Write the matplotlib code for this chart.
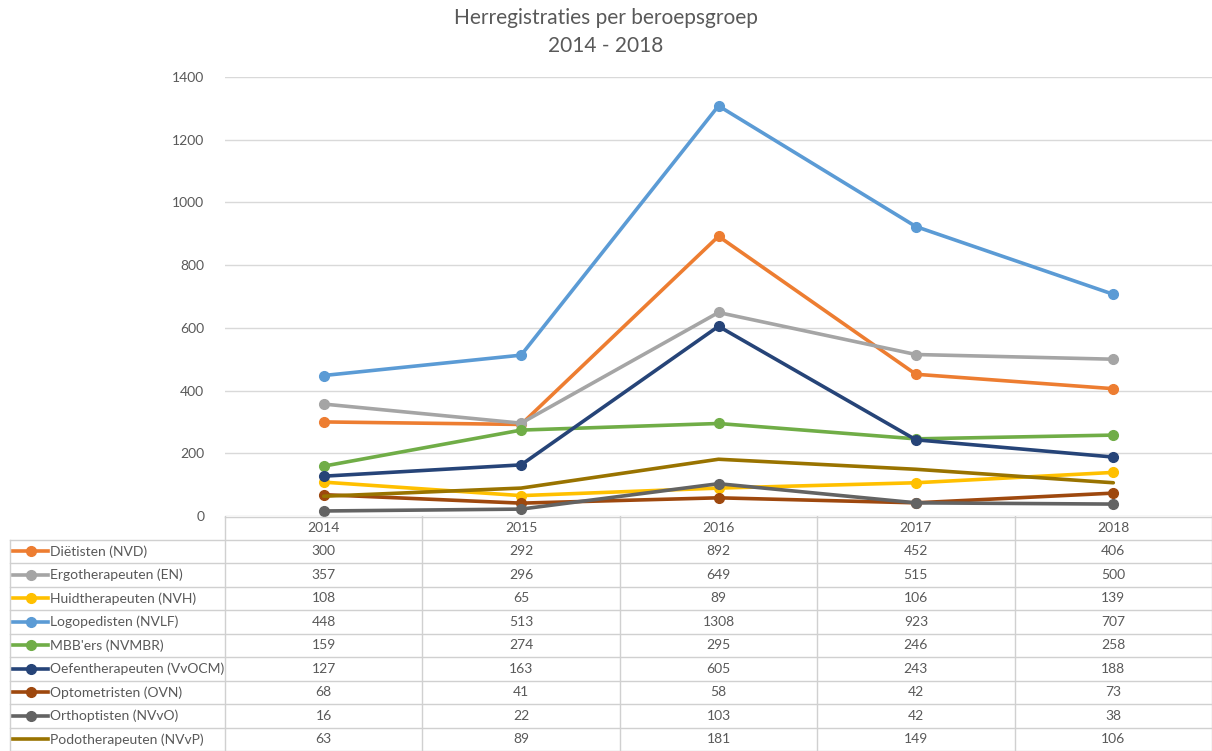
import numpy as np
import matplotlib.pyplot as plt

plt.rcParams['font.family'] = ['Lato', 'DejaVu Sans']

years = ['2014', '2015', '2016', '2017', '2018']
names = ['Diëtisten (NVD)', 'Ergotherapeuten (EN)', 'Huidtherapeuten (NVH)',
         'Logopedisten (NVLF)', "MBB'ers (NVMBR)", 'Oefentherapeuten (VvOCM)',
         'Optometristen (OVN)', 'Orthoptisten (NVvO)', 'Podotherapeuten (NVvP)']

dietisten = [300, 292, 892, 452, 406]
ergo = [357, 296, 649, 515, 500]
huid = [108, 65, 89, 106, 139]
logo = [448, 513, 1308, 923, 707]
mbb = [159, 274, 295, 246, 258]
oefen = [127, 163, 605, 243, 188]
opto = [68, 41, 58, 42, 73]
ortho = [16, 22, 103, 42, 38]
podo = [63, 89, 181, 149, 106]

series = [dietisten, ergo, huid, logo, mbb, oefen, opto, ortho, podo]
colors = ['#ED7D31', '#A5A5A5', '#FFC000', '#5B9BD5', '#70AD47',
          '#264478', '#9E480E', '#636363', '#997300']
markers = ['o'] * 8 + [None]

txt = '#595959'
grid = '#D9D9D9'
W, H = 1212, 751

fig = plt.figure(figsize=(W / 100, H / 100), dpi=100)
ax = fig.add_axes([225 / W, 235 / H, 987 / W, 439 / H])

x = np.arange(len(years))
for vals, c, m in zip(series, colors, markers):
    ax.plot(x, vals, color=c, lw=2.6, marker=m, ms=7, solid_capstyle='round', zorder=3)

ax.set_xlim(-0.5, 4.5)
ax.set_ylim(0, 1400)
ax.set_yticks(range(0, 1401, 200))
ax.set_xticks([])
ax.grid(axis='y', color=grid, lw=1)
for s in ax.spines.values():
    s.set_visible(False)
ax.tick_params(axis='y', length=0, pad=15, labelsize=10, labelcolor=txt)

fig.text(0.5, 1 - 18 / H, 'Herregistraties per beroepsgroep', ha='center', va='center',
         fontsize=15, color=txt)
fig.text(0.5, 1 - 46 / H, '2014 - 2018', ha='center', va='center', fontsize=15, color=txt)

# data table under the chart
tax = fig.add_axes([0, 0, 1, 235 / H])
tax.set_xlim(0, W)
tax.set_ylim(235, 0)
tax.axis('off')

left, first = 10, 225
colw = (W - first) / len(years)
rowh = 235 / (len(names) + 1)
lc = '#D0D0D0'

# horizontal lines
tax.plot([first, W], [0.5, 0.5], color=lc, lw=1)
for i in range(1, len(names) + 2):
    tax.plot([left, W], [i * rowh, i * rowh], color=lc, lw=1)
# vertical lines
tax.plot([left, left], [rowh, 235], color=lc, lw=1)
for j in range(len(years) + 1):
    xx = min(first + j * colw, W - 0.5)
    tax.plot([xx, xx], [0, 235], color=lc, lw=1)

for j, yr in enumerate(years):
    tax.text(first + (j + 0.5) * colw, rowh / 2, yr, ha='center', va='center',
             fontsize=10, color=txt)

for i, (nm, vals, c, m) in enumerate(zip(names, series, colors, markers)):
    yc = (i + 1.5) * rowh
    tax.plot([13, 48], [yc, yc], color=c, lw=2.6)
    if m:
        tax.plot([30.5], [yc], color=c, marker=m, ms=7)
    tax.text(50, yc, nm, ha='left', va='center', fontsize=10, color=txt)
    for j, v in enumerate(vals):
        tax.text(first + (j + 0.5) * colw, yc, str(v), ha='center', va='center',
                 fontsize=10, color=txt)

fig.savefig('out.png', dpi=100)
